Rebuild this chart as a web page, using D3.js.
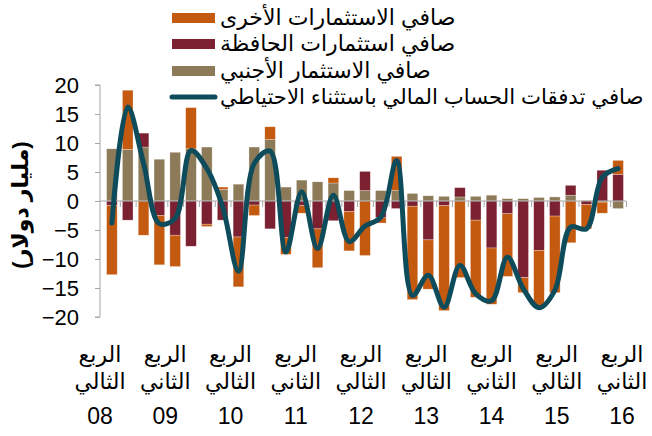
<!DOCTYPE html>
<html><head><meta charset="utf-8">
<script src="https://cdn.jsdelivr.net/npm/d3@7"></script>
<style>
body{margin:0;background:#fff}
svg{display:block}
text{font-family:"Liberation Sans","DejaVu Sans",Arial,sans-serif;fill:#000}
</style>
</head><body>
<svg id="c" width="652" height="436"></svg>
<script>
// ---- data (billion USD), quarterly 2008Q2 .. 2016Q2 ----
const quarters = ["2008Q2","2008Q3","2008Q4","2009Q1","2009Q2","2009Q3","2009Q4","2010Q1","2010Q2","2010Q3","2010Q4","2011Q1","2011Q2","2011Q3","2011Q4","2012Q1","2012Q2","2012Q3","2012Q4","2013Q1","2013Q2","2013Q3","2013Q4","2014Q1","2014Q2","2014Q3","2014Q4","2015Q1","2015Q2","2015Q3","2015Q4","2016Q1","2016Q2"];
const fdi       = [9.0, 8.9, 9.3, 7.2, 8.4, 9.0, 9.3, 2.0, 2.9, 9.3, 10.6, 2.4, 3.6, 3.3, 3.1, 1.8, 1.8, 1.8, 1.8, 1.3, 0.9, 0.8, 0.7, 0.8, 1.0, 0.4, 0.4, 0.6, 0.7, 1.0, 0.1, -0.2, -1.3];
const portfolio = [-0.8, -3.3, 2.4, -2.5, -5.9, -7.8, -4.0, -3.3, -6.2, -0.7, -4.8, -6.3, -0.8, -4.8, -3.4, -1.8, 3.3, -2.9, -1.3, -0.9, -6.7, -0.8, 1.6, -3.3, -8.1, -2.2, -13.2, -8.5, -2.6, 1.7, -0.6, 5.3, 4.6];
const other     = [-11.9, 10.2, -5.9, -8.5, -5.4, 7.1, -0.4, 0.4, -8.6, -1.8, 2.2, -2.9, -1.3, -6.7, 0.9, -6.8, -9.4, -0.9, 5.9, -16.1, -8.5, -18.1, -13.2, -13.3, -9.7, -10.8, -2.6, -9.8, -13.2, -7.2, -4.2, -1.9, 2.4];
const netFlows  = [-3.8, 16.2, 6.5, -3.9, -3.0, 8.7, 5.6, -1.0, -12.1, 6.5, 8.6, -8.8, 1.6, -8.2, 1.0, -7.0, -4.3, -2.8, 7.0, -16.3, -12.8, -18.3, -11.1, -16.0, -17.2, -9.7, -15.1, -18.4, -15.4, -4.5, -4.8, 4.1, 5.6];

const yearLabels   = ["08","09","10","11","12","13","14","15","16"];
const quarterWords = ["الثالي","الثاني","الثالي","الثاني","الثالي","الثالي","الثاني","الثالي","الثاني"];
const quarterTitle = "الربع";
const yTicks = [-20,-15,-10,-5,0,5,10,15,20];
const yTitle = "(مليار دولار)";
const seriesNames = ["صافي الاستثمارات الأخرى","صافي استثمارات الحافظة","صافي الاستثمار الأجنبي","صافي تدفقات الحساب المالي باستثناء الاحتياطي"];
const seriesColors = ["#C45A10","#7B2131","#8C7A58","#0E4C5C"];

// ---- build ----
const svg = d3.select("#c");
const fs = 22;

const x = d3.scaleBand().domain(quarters).range([104, 626]).paddingInner(0.33).paddingOuter(0.165);
const y = d3.scaleLinear().domain([-20, 20]).range([317, 85]);

const rows = quarters.map((q, i) => ({q, fdi: fdi[i], portfolio: portfolio[i], other: other[i]}));
const keys = ["fdi","portfolio","other"];
const colorByKey = {fdi: seriesColors[2], portfolio: seriesColors[1], other: seriesColors[0]};
const stacked = d3.stack().keys(keys).offset(d3.stackOffsetDiverging)(rows);

svg.append("g").selectAll("g").data(stacked).join("g")
  .attr("fill", d => colorByKey[d.key])
  .selectAll("rect").data(d => d).join("rect")
  .attr("x", d => x(d.data.q))
  .attr("width", x.bandwidth())
  .attr("y", d => y(Math.max(d[0], d[1])))
  .attr("height", d => Math.abs(y(d[0]) - y(d[1])))
  .attr("stroke", "#fff").attr("stroke-opacity", 0.45).attr("stroke-width", 0.6);

// y axis
const yAxis = svg.append("g").attr("transform", "translate(100,0)")
  .call(d3.axisLeft(y).tickValues(yTicks).tickSize(5).tickPadding(16).tickFormat(d3.format("d")));
yAxis.select(".domain").attr("stroke", "#a6a6a6").attr("d", `M-5,${y(20)}H0V${y(-20)}H-5`);
yAxis.selectAll(".tick line").attr("stroke", "#a6a6a6");
yAxis.selectAll(".tick text").attr("font-size", fs).attr("font-family", "Liberation Sans, Arial, sans-serif").attr("fill", "#000");

// zero category axis with boundary ticks
const xb = d3.scaleLinear().domain([0, quarters.length]).range([104, 626]);
const xAxis = svg.append("g").attr("transform", `translate(0,${y(0)})`)
  .call(d3.axisBottom(xb).tickValues(d3.range(1, quarters.length + 1)).tickSize(6).tickFormat(""));
xAxis.select(".domain").attr("stroke", "#a6a6a6").attr("d", `M100,0H626`);
xAxis.selectAll(".tick line").attr("stroke", "#a6a6a6");

// category labels (one per year)
const xl = d3.scaleLinear().domain([0, yearLabels.length - 1]).range([100, 622]);
const lab = svg.append("g").attr("font-size", fs).attr("text-anchor", "middle");
yearLabels.forEach((yl, k) => {
  const cx = xl(k);
  lab.append("text").attr("x", cx).attr("y", 362).text(quarterTitle);
  lab.append("text").attr("x", cx).attr("y", 389).text(quarterWords[k]);
  lab.append("text").attr("x", cx).attr("y", 424).attr("font-size", 23).text(yl);
});

// y title
svg.append("text").attr("transform", "translate(28,205) rotate(-90)")
  .attr("text-anchor", "middle").attr("font-size", fs).attr("font-weight", "bold").text(yTitle);

// line
const line = d3.line().x((d, i) => x(quarters[i]) + x.bandwidth() / 2).y(d => y(d)).curve(d3.curveCatmullRom.alpha(0.5));
svg.append("path").datum(netFlows).attr("d", line).attr("fill", "none")
  .attr("stroke", seriesColors[3]).attr("stroke-width", 5).attr("stroke-linejoin", "round").attr("stroke-linecap", "round");

// legend
const lg = svg.append("g");
const rowsY = [18, 44, 71, 97];
seriesNames.forEach((nm, i) => {
  if (i < 3) {
    lg.append("rect").attr("x", 172).attr("y", rowsY[i] - 5).attr("width", 43).attr("height", 10).attr("fill", seriesColors[i]);
  } else {
    lg.append("line").attr("x1", 172).attr("x2", 215).attr("y1", rowsY[i]).attr("y2", rowsY[i])
      .attr("stroke", seriesColors[3]).attr("stroke-width", 5).attr("stroke-linecap", "round");
  }
  const t = lg.append("text").attr("x", 220).attr("y", rowsY[i] + 7).attr("font-size", fs).text(nm);
  const w = t.node().getComputedTextLength();
  const maxW = 644 - 220;
  if (w > maxW) t.attr("font-size", fs * maxW / w);
});
</script>
</body></html>
